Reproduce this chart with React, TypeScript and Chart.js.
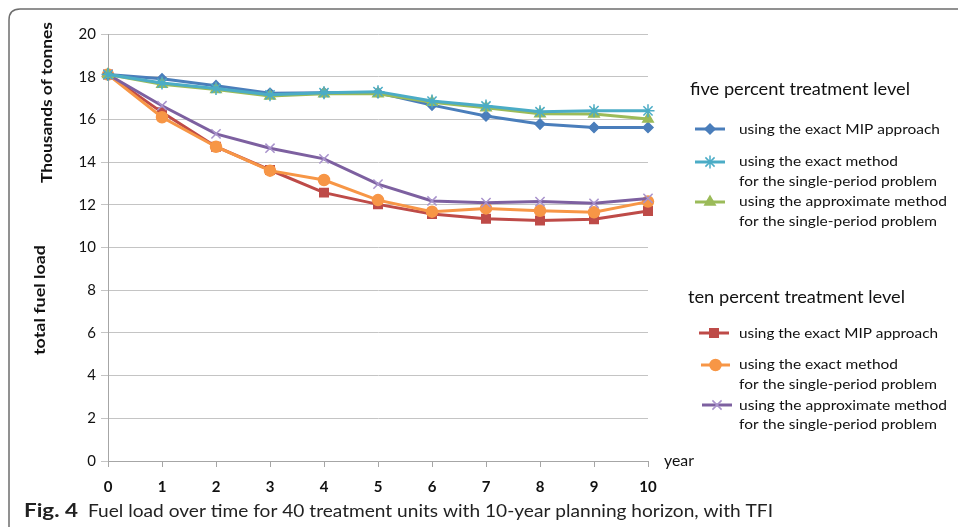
import React, { useEffect, useRef } from "react";
import { Chart, registerables } from "chart.js";
import { drawPoint } from "chart.js/helpers";

Chart.register(...registerables);

const years = ["0", "1", "2", "3", "4", "5", "6", "7", "8", "9", "10"];
const yTicks = [0, 2, 4, 6, 8, 10, 12, 14, 16, 18, 20];

const fiveMip = [18.1, 17.9, 17.58, 17.22, 17.25, 17.25, 16.67, 16.16, 15.78, 15.62, 15.62];
const fiveExact = [18.1, 17.7, 17.45, 17.15, 17.25, 17.3, 16.86, 16.63, 16.36, 16.41, 16.4];
const fiveApprox = [18.1, 17.65, 17.4, 17.1, 17.2, 17.2, 16.8, 16.55, 16.27, 16.25, 16.02];
const tenMip = [18.1, 16.33, 14.72, 13.63, 12.57, 12.02, 11.57, 11.35, 11.26, 11.32, 11.71];
const tenExact = [18.1, 16.1, 14.72, 13.6, 13.16, 12.22, 11.68, 11.83, 11.72, 11.65, 12.15];
const tenApprox = [18.1, 16.64, 15.32, 14.65, 14.15, 12.97, 12.18, 12.1, 12.15, 12.07, 12.3];

const FONT = "Lato, 'Open Sans', sans-serif";

type Leg = { color: string; pt: string; r: number; ptColor: string; x0: number; x1: number; y: number; lines: { t: string; y: number; w: number }[] };

const legendItems: Leg[] = [
  { color: "#4A7EBB", pt: "rectRot", r: 5, ptColor: "#4A7EBB", x0: 695, x1: 725, y: 129, lines: [{ t: "using the exact MIP approach", y: 129, w: 201 }] },
  { color: "#4BACC6", pt: "star", r: 6.5, ptColor: "#4BACC6", x0: 695, x1: 725, y: 162, lines: [{ t: "using the exact method", y: 161, w: 159 }, { t: "for the single-period problem", y: 181, w: 198 }] },
  { color: "#9BBB59", pt: "triangle", r: 6, ptColor: "#9BBB59", x0: 695, x1: 725, y: 202, lines: [{ t: "using the approximate method", y: 201, w: 208 }, { t: "for the single-period problem", y: 221, w: 198 }] },
  { color: "#BE4B48", pt: "rect", r: 6, ptColor: "#BE4B48", x0: 699, x1: 729, y: 333, lines: [{ t: "using the exact MIP approach", y: 333, w: 199 }] },
  { color: "#F79646", pt: "circle", r: 5.5, ptColor: "#F79646", x0: 701, x1: 730, y: 365, lines: [{ t: "using the exact method", y: 364, w: 159 }, { t: "for the single-period problem", y: 384, w: 198 }] },
  { color: "#7D60A0", pt: "crossRot", r: 6.5, ptColor: "#A993CC", x0: 702, x1: 732, y: 405, lines: [{ t: "using the approximate method", y: 405, w: 208 }, { t: "for the single-period problem", y: 424, w: 198 }] },
];

function fitText(ctx: CanvasRenderingContext2D, text: string, x: number, y: number, w: number) {
  const m = ctx.measureText(text).width;
  ctx.save();
  ctx.translate(x, y);
  ctx.scale(w / m, 1);
  ctx.fillText(text, 0, 0);
  ctx.restore();
}

const decor = {
  id: "decor",
  afterDraw(chart: any) {
    const ctx: CanvasRenderingContext2D = chart.ctx;
    ctx.save();
    // frame
    ctx.strokeStyle = "#6e6e6e";
    ctx.lineWidth = 1.5;
    ctx.beginPath();
    ctx.moveTo(9, 527);
    ctx.lineTo(9, 20);
    ctx.quadraticCurveTo(9, 9, 20, 9);
    ctx.lineTo(958, 9);
    ctx.stroke();

    ctx.fillStyle = "#111";
    ctx.textBaseline = "middle";
    ctx.textAlign = "left";
    // axis titles
    ctx.font = `bold 16px ${FONT}`;
    ctx.save();
    ctx.translate(47, 183);
    ctx.rotate(-Math.PI / 2);
    fitText(ctx, "Thousands of tonnes", 0, 0, 161);
    ctx.restore();
    ctx.save();
    ctx.translate(40, 355);
    ctx.rotate(-Math.PI / 2);
    fitText(ctx, "total fuel load", 0, 0, 110);
    ctx.restore();

    // year
    ctx.font = `15px ${FONT}`;
    fitText(ctx, "year", 664, 461, 30);

    // legends
    ctx.font = `17px ${FONT}`;
    fitText(ctx, "five percent treatment level", 690, 90, 220);
    fitText(ctx, "ten percent treatment level", 688, 298, 217);
    for (const it of legendItems) {
      ctx.strokeStyle = it.color;
      ctx.lineWidth = 3;
      ctx.beginPath();
      ctx.moveTo(it.x0, it.y);
      ctx.lineTo(it.x1, it.y);
      ctx.stroke();
      ctx.fillStyle = it.ptColor;
      ctx.strokeStyle = it.ptColor;
      ctx.lineWidth = 1.5;
      drawPoint(ctx, { pointStyle: it.pt as any, radius: it.r, borderWidth: 1.5, rotation: 0 } as any, (it.x0 + it.x1) / 2, it.y);
      ctx.fillStyle = "#111";
      ctx.font = `14px ${FONT}`;
      for (const l of it.lines) fitText(ctx, l.t, 739, l.y, l.w);
    }

    // caption
    ctx.fillStyle = "#222";
    ctx.font = `bold 19px ${FONT}`;
    fitText(ctx, "Fig. 4", 24, 511, 54);
    ctx.font = `18px ${FONT}`;
    fitText(ctx, "Fuel load over time for 40 treatment units with 10-year planning horizon, with TFI", 88, 511, 685);
    ctx.restore();
  },
};

function ds(label: string, data: number[], color: string, pt: string, r: number, ptColor: string, order: number) {
  return {
    label,
    data,
    borderColor: color,
    backgroundColor: ptColor,
    pointBackgroundColor: ptColor,
    pointBorderColor: ptColor,
    pointStyle: pt,
    pointRadius: r,
    pointBorderWidth: 1.5,
    borderWidth: 3,
    tension: 0,
    order,
  };
}

export default function App() {
  const ref = useRef<HTMLCanvasElement>(null);
  useEffect(() => {
    if (!ref.current) return;
    const chart = new Chart(ref.current, {
      type: "line",
      data: {
        labels: years,
        datasets: [
          ds("five MIP", fiveMip, "#4A7EBB", "rectRot", 5, "#4A7EBB", 3),
          ds("five exact", fiveExact, "#4BACC6", "star", 6.5, "#4BACC6", 1),
          ds("five approx", fiveApprox, "#9BBB59", "triangle", 6, "#9BBB59", 2),
          ds("ten MIP", tenMip, "#BE4B48", "rect", 6, "#BE4B48", 6),
          ds("ten exact", tenExact, "#F79646", "circle", 5.5, "#F79646", 5),
          ds("ten approx", tenApprox, "#7D60A0", "crossRot", 6.5, "#A993CC", 4),
        ] as any,
      },
      options: {
        animation: false,
        responsive: false,
        layout: { padding: { left: 0, right: 310, top: 34, bottom: 0 } },
        plugins: { legend: { display: false }, tooltip: { enabled: false } },
        scales: {
          x: {
            type: "category",
            offset: false,
            grid: { drawOnChartArea: false, drawTicks: true, tickLength: 6, color: "#a6a6a6" },
            border: { color: "#a6a6a6", width: 1 },
            ticks: { color: "#111", font: { family: FONT, size: 15, weight: "bold" }, padding: 11, maxRotation: 0 },
            afterFit: (s: any) => { s.height = 67; },
          },
          y: {
            min: 0,
            max: 20,
            afterBuildTicks: (s: any) => { s.ticks = yTicks.map((v) => ({ value: v })); },
            grid: { color: "#c4c4c4", tickLength: 7, lineWidth: 1 },
            border: { color: "#a6a6a6", width: 1 },
            ticks: { color: "#111", font: { family: FONT, size: 15 }, padding: 5 },
            afterFit: (s: any) => { s.width = 108; },
          },
        },
      },
      plugins: [decor],
    });
    return () => chart.destroy();
  }, []);
  return (
    <div style={{ position: "fixed", left: 0, top: 0, width: 958, height: 528, background: "#fff" }}>
      <canvas ref={ref} width={958} height={528} style={{ width: 958, height: 528 }} />
    </div>
  );
}
